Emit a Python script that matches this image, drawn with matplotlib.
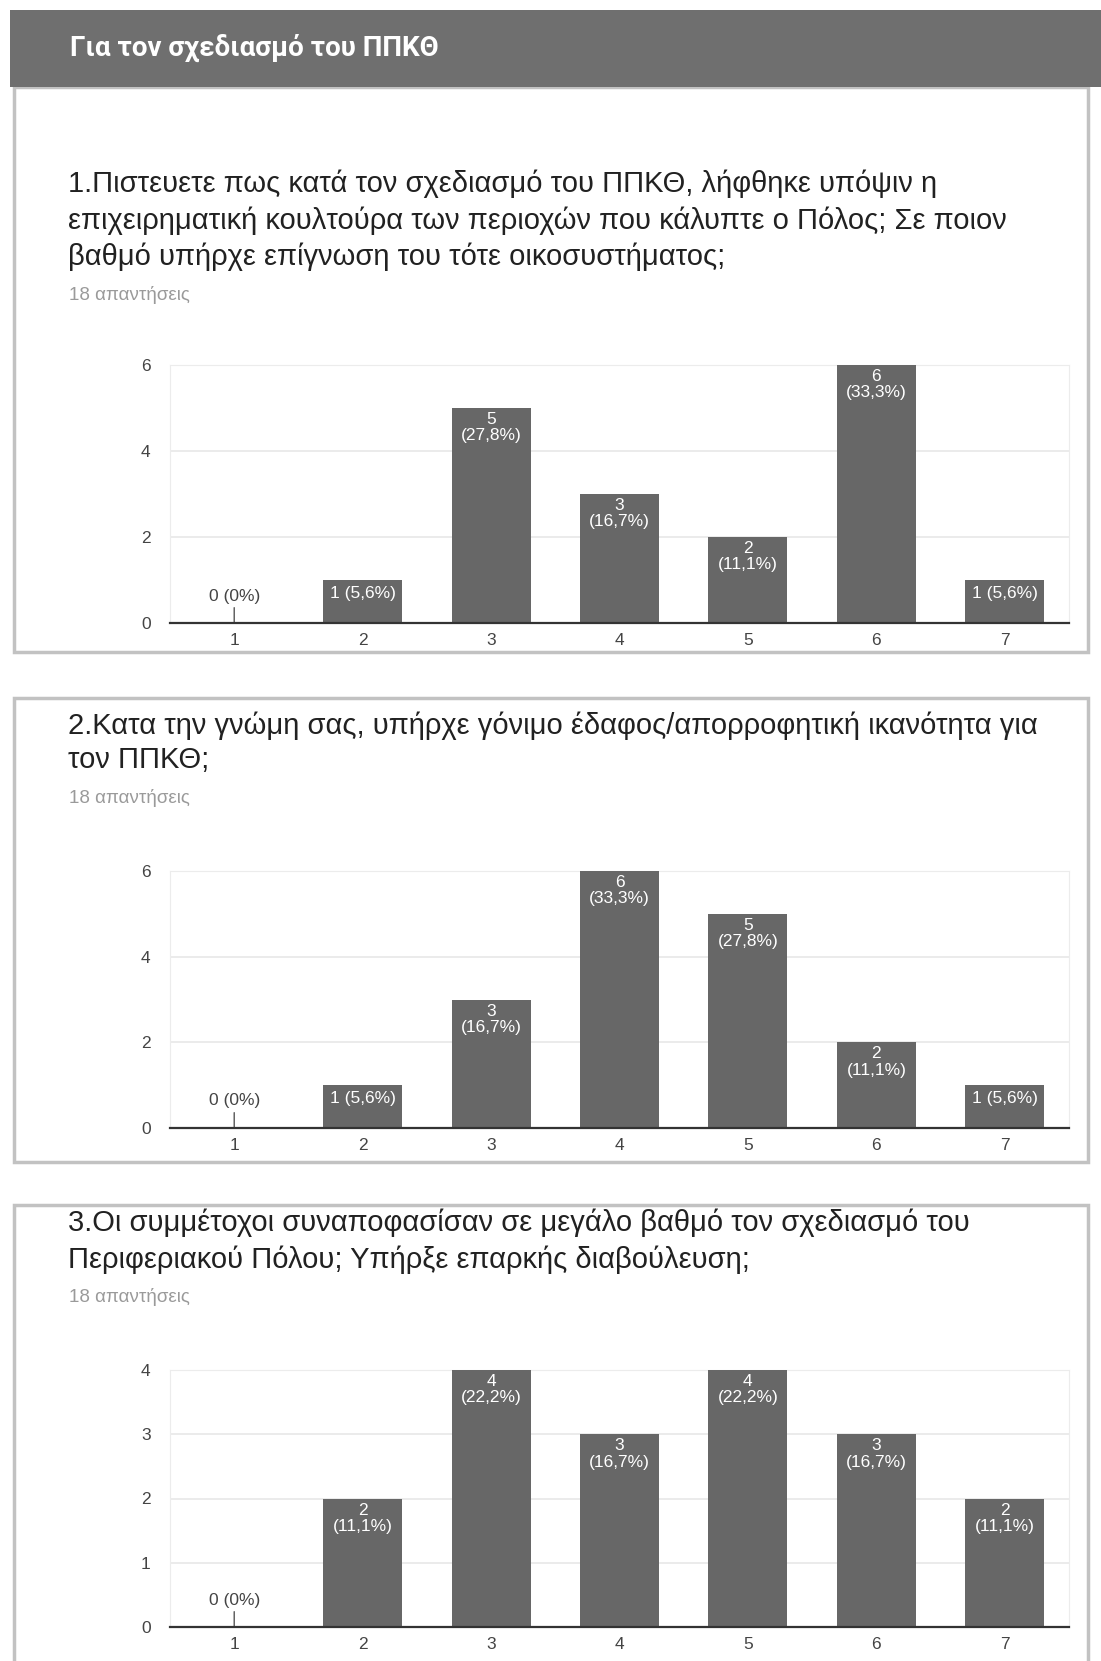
import matplotlib
matplotlib.use('Agg')
import matplotlib.pyplot as plt
from matplotlib.patches import Rectangle

plt.rcParams['font.family'] = ['Liberation Sans', 'DejaVu Sans']

W, H = 1101, 1661

section_title = "Για τον σχεδιασμό του ΠΠΚΘ"
responses_label = "18 απαντήσεις"
total = 18

categories = [1, 2, 3, 4, 5, 6, 7]

q1_lines = ["1.Πιστευετε πως κατά τον σχεδιασμό του ΠΠΚΘ, λήφθηκε υπόψιν η",
            "επιχειρηματική κουλτούρα των περιοχών που κάλυπτε ο Πόλος; Σε ποιον",
            "βαθμό υπήρχε επίγνωση του τότε οικοσυστήματος;"]
q1_counts = [0, 1, 5, 3, 2, 6, 1]
q1_yticks = [0, 2, 4, 6]

q2_lines = ["2.Κατα την γνώμη σας, υπήρχε γόνιμο έδαφος/απορροφητική ικανότητα για",
            "τον ΠΠΚΘ;"]
q2_counts = [0, 1, 3, 6, 5, 2, 1]
q2_yticks = [0, 2, 4, 6]

q3_lines = ["3.Οι συμμέτοχοι συναποφασίσαν σε μεγάλο βαθμό τον σχεδιασμό του",
            "Περιφεριακού Πόλου; Υπήρξε επαρκής διαβούλευση;"]
q3_counts = [0, 2, 4, 3, 4, 3, 2]
q3_yticks = [0, 1, 2, 3, 4]

BAR = '#676767'
HEADER = '#6f6f6f'

fig = plt.figure(figsize=(W / 100, H / 100), dpi=100)
fig.patch.set_facecolor('white')


def fx(x):
    return x / W


def fy(y):
    return 1 - y / H


def box(x0, y0, x1, y1, **kw):
    fig.patches.append(Rectangle((fx(x0), fy(y1)), fx(x1) - fx(x0), fy(y0) - fy(y1),
                                 transform=fig.transFigure, **kw))


# header and cards
box(14, 87, 1088, 652, facecolor='white', edgecolor='#c2c2c2', linewidth=2.5, zorder=-2)
box(14, 698, 1088, 1162, facecolor='white', edgecolor='#c2c2c2', linewidth=2.5, zorder=-2)
box(14, 1205, 1088, 1700, facecolor='white', edgecolor='#c2c2c2', linewidth=2.5, zorder=-2)
box(10, 10, 1101, 87, facecolor=HEADER, edgecolor='none', zorder=-1)

fig.text(fx(70), fy(48), section_title, color='white', fontsize=20, fontweight='bold',
         family=['Roboto', 'DejaVu Sans'], va='center', ha='left')


def pct(v):
    if v == 0:
        return "0%"
    return ("%.1f%%" % (v / total * 100)).replace('.', ',')


def question(lines, line_y, resp_y, counts, yticks, top, bottom):
    for txt, y in zip(lines, line_y):
        fig.text(fx(68), fy(y), txt, color='#212121', fontsize=21, va='center', ha='left')
    fig.text(fx(69), fy(resp_y), responses_label, color='#9a9a9a', fontsize=13.5,
             va='center', ha='left')

    left, right = 170, 1069
    ax = fig.add_axes([fx(left), fy(bottom), fx(right) - fx(left), fy(top) - fy(bottom)])
    ax.set_zorder(2)
    ax.bar(categories, counts, width=0.615, color=BAR, zorder=3)
    ax.set_xlim(0.5, 7.5)
    ax.set_ylim(0, max(yticks))
    ax.set_yticks(yticks)
    ax.set_xticks(categories)
    ax.grid(axis='y', color='#e8e8e8', linewidth=1.2, zorder=0)
    ax.tick_params(axis='both', length=0, labelsize=12.5, labelcolor='#444444')
    ax.tick_params(axis='y', pad=14)
    ax.tick_params(axis='x', pad=7)
    for s in ['left', 'right', 'top']:
        ax.spines[s].set_color('#ececec')
    ax.spines['bottom'].set_color('#333333')
    ax.spines['bottom'].set_linewidth(1.6)
    ax.spines['bottom'].set_zorder(4)

    px_per_unit = (bottom - top) / max(yticks)
    for c, v in zip(categories, counts):
        if v == 0:
            ax.annotate("0 (0%)", xy=(c, 0), xytext=(0, 27 * 0.72), textcoords='offset points',
                        ha='center', va='center', fontsize=12.5, color='#444444',
                        arrowprops=dict(arrowstyle='-', color='#555555', lw=1,
                                        shrinkA=1, shrinkB=0))
        elif v * px_per_unit > 50:
            ax.annotate("%d\n(%s)" % (v, pct(v)), xy=(c, v), xytext=(0, -3),
                        textcoords='offset points', ha='center', va='top',
                        fontsize=12.5, color='white', linespacing=1.1, zorder=5)
        else:
            ax.annotate("%d (%s)" % (v, pct(v)), xy=(c, v), xytext=(0, -4),
                        textcoords='offset points', ha='center', va='top',
                        fontsize=12.5, color='white', zorder=5)


question(q1_lines, [184, 221, 257], 295, q1_counts, q1_yticks, 365, 623)
question(q2_lines, [726, 760], 798, q2_counts, q2_yticks, 871, 1128)
question(q3_lines, [1223, 1260], 1297, q3_counts, q3_yticks, 1370, 1627)

fig.savefig('out.png', dpi=100)
